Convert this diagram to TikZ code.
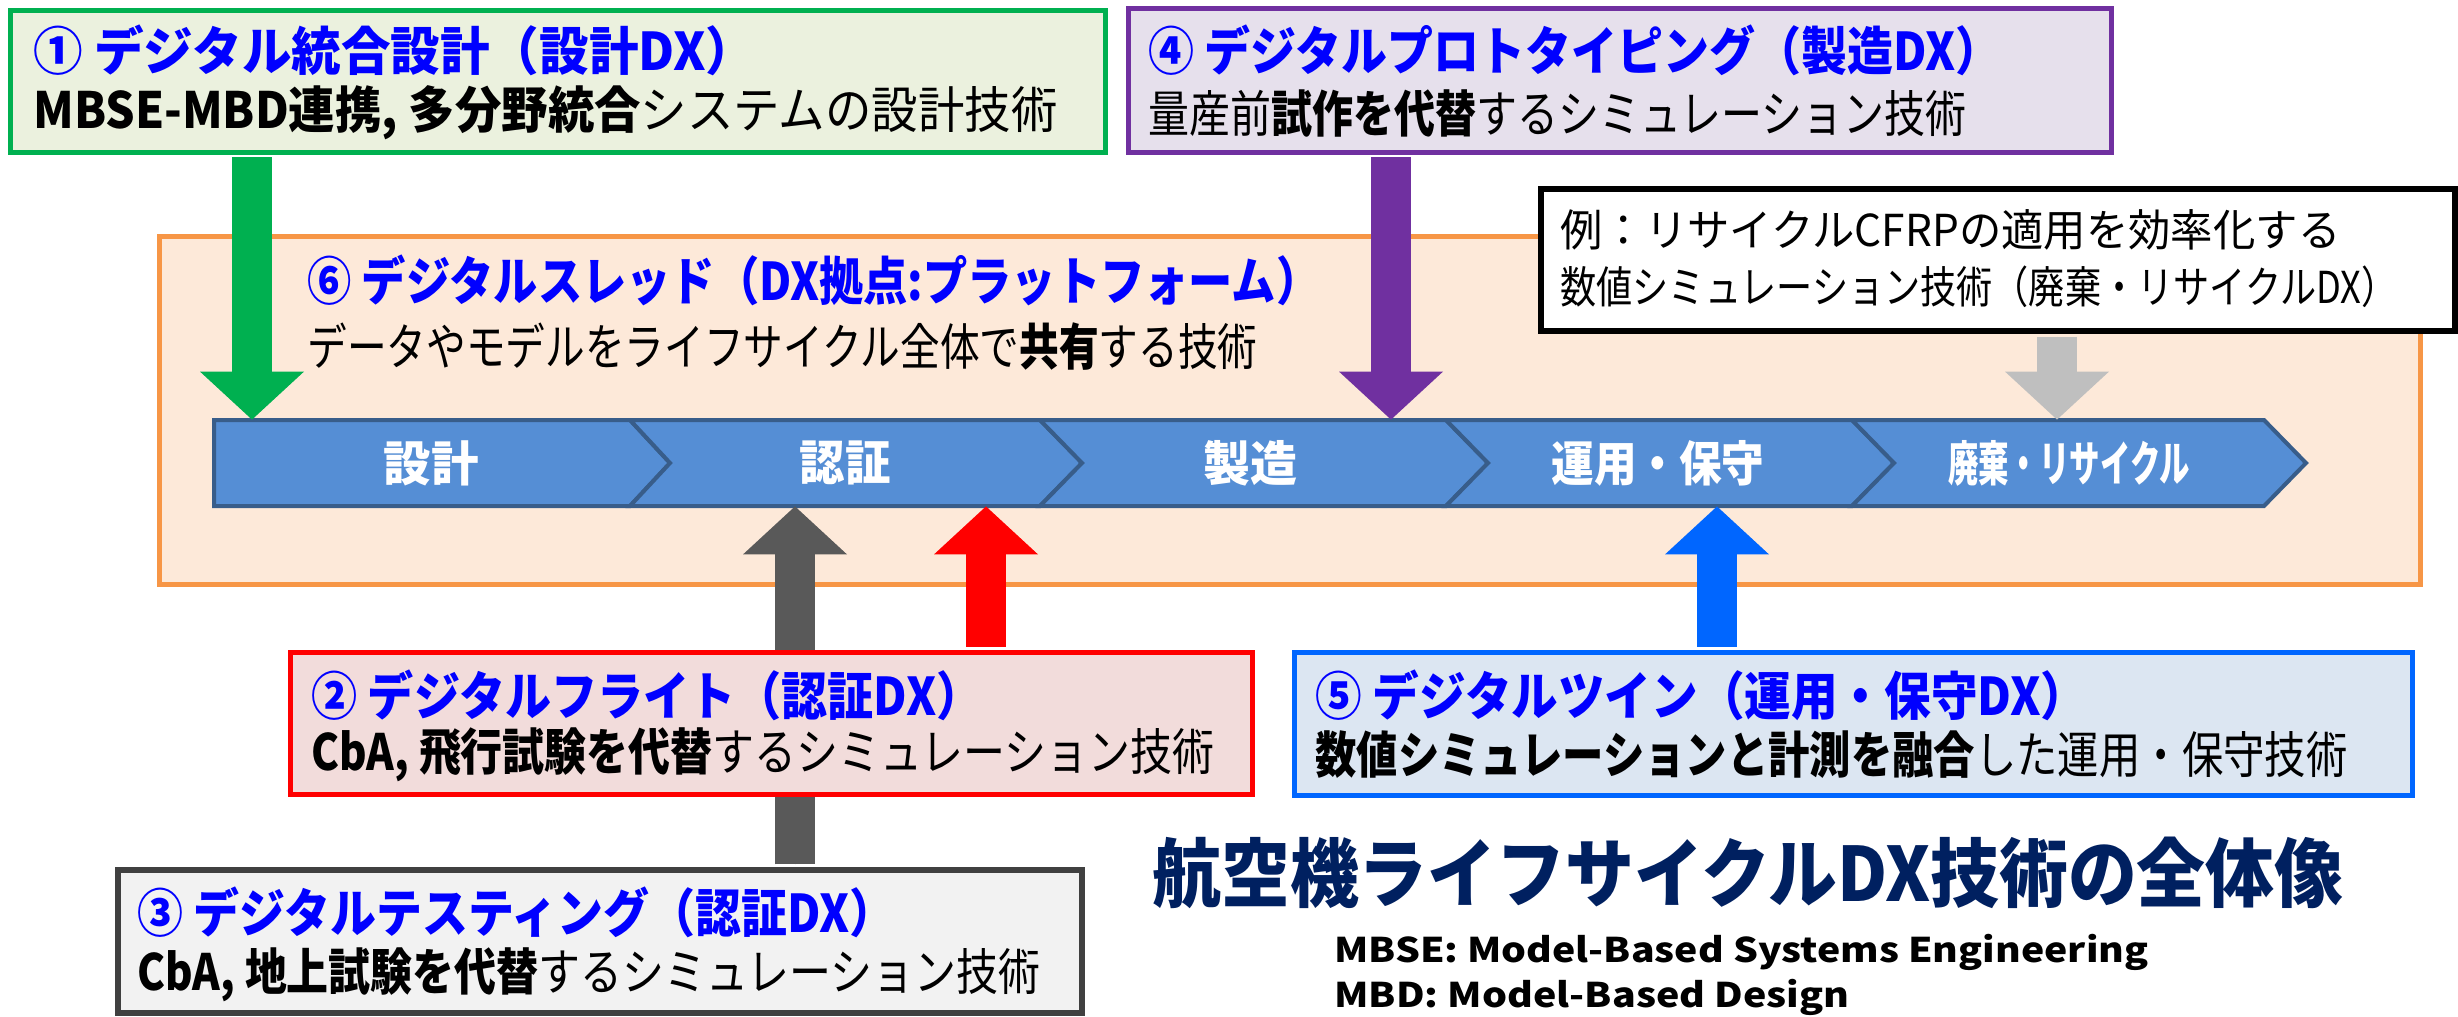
\documentclass[tikz,border=0pt]{standalone}
\usepackage{fontspec}
\usepackage{graphicx}
\setmainfont{Noto Sans CJK JP}
\usetikzlibrary{arrows.meta,fit}
\definecolor{cGreen}{HTML}{00B050}
\definecolor{cGreenF}{HTML}{EBF1DE}
\definecolor{cPurple}{HTML}{7030A0}
\definecolor{cPurpleF}{HTML}{E6E0EC}
\definecolor{cOrange}{HTML}{F79646}
\definecolor{cOrangeF}{HTML}{FDE9D9}
\definecolor{cRed}{HTML}{FF0000}
\definecolor{cRedF}{HTML}{F2DCDB}
\definecolor{cBlue}{HTML}{0066FF}
\definecolor{cBlueF}{HTML}{DCE6F2}
\definecolor{cGrayB}{HTML}{404040}
\definecolor{cGrayF}{HTML}{F2F2F2}
\definecolor{cDark}{HTML}{595959}
\definecolor{cLight}{HTML}{BFBFBF}
\definecolor{cChev}{HTML}{558ED5}
\definecolor{cChevB}{HTML}{385D8A}
\definecolor{cTitle}{HTML}{0000FF}
\definecolor{cNavy}{HTML}{002060}
\newcommand\fitto[2]{\resizebox{#1}{\height}{#2}}
\begin{document}
\begin{tikzpicture}[x=0.5pt,y=-0.5pt,
  box/.style={inner sep=0pt, line width=2.5pt},
  gbox/.style={box, draw=cGreen, fill=cGreenF},
  pbox/.style={box, draw=cPurple, fill=cPurpleF},
  obox/.style={box, draw=cOrange, fill=cOrangeF},
  rbox/.style={box, draw=cRed, fill=cRedF},
  bbox/.style={box, draw=cBlue, fill=cBlueF},
  kbox/.style={box, draw=cGrayB, fill=cGrayF, line width=3pt},
  xbox/.style={box, draw=black, fill=white, line width=3pt},
  ttl/.style={anchor=west, inner sep=0pt, text=cTitle, font=\fontsize{26pt}{30pt}\selectfont\bfseries},
  sub/.style={anchor=west, inner sep=0pt, font=\fontsize{25pt}{29pt}\selectfont},
  exl/.style={anchor=west, inner sep=0pt, font=\fontsize{22pt}{26pt}\selectfont},
  seglab/.style={inner sep=0pt, minimum height=43pt, text=white, font=\fontsize{24pt}{28pt}\selectfont\bfseries},
  chev/.style={fill=cChev, draw=cChevB, line width=2pt, line join=miter},
  barrow/.style={line width=20pt, shorten <=1.3pt, -{Triangle[length=24pt,width=52pt,line width=0pt]}}
]
\useasboundingbox (0,0) rectangle (2458,1017);
\fill[white] (0,0) rectangle (2458,1017);

% digital thread box
\node[obox, fit={(159,236) (2420,584)}] (b6) {};

% chevron bar
\filldraw[chev] (214,420) -- (630,420) -- (670,463) -- (630,506) -- (214,506) -- cycle;
\filldraw[chev] (630,420) -- (1040,420) -- (1082,463) -- (1040,506) -- (630,506) -- (670,463) -- cycle;
\filldraw[chev] (1040,420) -- (1446,420) -- (1488,463) -- (1446,506) -- (1040,506) -- (1082,463) -- cycle;
\filldraw[chev] (1446,420) -- (1852,420) -- (1894,463) -- (1852,506) -- (1446,506) -- (1488,463) -- cycle;
\filldraw[chev] (1852,420) -- (2264,420) -- (2306,463) -- (2264,506) -- (1852,506) -- (1894,463) -- cycle;
\node[seglab] (s1) at (431,463) {\fitto{47.5pt}{設計}};
\node[seglab] (s2) at (845,463) {\fitto{45.5pt}{認証}};
\node[seglab] (s3) at (1250,463) {\fitto{47pt}{製造}};
\node[seglab] (s4) at (1658,463) {\fitto{106.5pt}{運用・保守}};
\node[seglab] (s5) at (2069,463) {\fitto{121pt}{廃棄・リサイクル}};

% boxes
\node[gbox, fit={(10,10) (1105,152)}] (b1) {};
\node[pbox, fit={(1128,8) (2111,152)}] (b4) {};
\node[kbox, fit={(118,870) (1082,1013)}] (b3) {};
\node[xbox, fit={(1541,189) (2455,331)}] (bx) {};

% arrows
\coordinate (xg) at (252,0);
\coordinate (xp) at (1391,0);
\coordinate (xl) at (2057,0);
\coordinate (xd) at (795,0);
\coordinate (xr) at (986,0);
\coordinate (xb) at (1717,0);
\draw[barrow, draw=cGreen, fill=cGreen] (b1.south -| xg) -- (s1.north -| xg);
\draw[barrow, draw=cPurple, fill=cPurple] (b4.south -| xp) -- (s3.north -| xp);
\draw[barrow, draw=cLight, fill=cLight] (bx.south -| xl) -- (s5.north -| xl);
\draw[barrow, draw=cDark, fill=cDark] (b3.north -| xd) -- (s2.south -| xd);

\node[rbox, fit={(290,652) (1252,794)}] (b2) {};
\node[bbox, fit={(1294,652) (2412,795)}] (b5) {};
\draw[barrow, draw=cRed, fill=cRed] (b2.north -| xr) -- (s2.south -| xr);
\draw[barrow, draw=cBlue, fill=cBlue] (b5.north -| xb) -- (s4.south -| xb);

% texts
\node[ttl] (t1) at (33,50) {\fitto{361pt}{① デジタル統合設計（設計DX）}};
\node[sub] (u1) at (33,113) {\fitto{512pt}{\textbf{MBSE-MBD連携, 多分野統合}システムの設計技術}};
\node[ttl] (t4) at (1148,50) {\fitto{426.5pt}{④ デジタルプロトタイピング（製造DX）}};
\node[sub] (u4) at (1148,113) {\fitto{409pt}{量産前\textbf{試作を代替}するシミュレーション技術}};
\node[ttl] (t6) at (307,280) {\fitto{506.5pt}{⑥ デジタルスレッド（DX拠点:プラットフォーム）}};
\node[sub] (u6) at (307,347) {\fitto{475pt}{データやモデルをライフサイクル全体で\textbf{共有}する技術}};
\node[exl] (x1) at (1560,230) {\fitto{390pt}{例：リサイクルCFRPの適用を効率化する}};
\node[exl] (x2) at (1560,287) {\fitto{418.5pt}{数値シミュレーション技術（廃棄・リサイクルDX）}};
\node[ttl] (t2) at (311,695) {\fitto{335.5pt}{② デジタルフライト（認証DX）}};
\node[sub] (u2) at (311,755) {\fitto{451.5pt}{\textbf{CbA, 飛行試験を代替}するシミュレーション技術}};
\node[ttl] (t5) at (1315,695) {\fitto{386pt}{⑤ デジタルツイン（運用・保守DX）}};
\node[sub] (u5) at (1315,755) {\fitto{516pt}{\textbf{数値シミュレーションと計測を融合}した運用・保守技術}};
\node[ttl] (t3) at (137,912) {\fitto{379pt}{③ デジタルテスティング（認証DX）}};
\node[sub] (u3) at (137,975) {\fitto{451.5pt}{\textbf{CbA, 地上試験を代替}するシミュレーション技術}};
\node[anchor=west, inner sep=0pt, text=cNavy, font=\fontsize{37.5pt}{42pt}\selectfont\bfseries] (mt) at (1152,873) {\fitto{595.5pt}{航空機ライフサイクルDX技術の全体像}};
\node[anchor=west, inner sep=0pt, font=\fontsize{17pt}{20pt}\selectfont\bfseries] (n1) at (1334,952) {\fitto{407pt}{MBSE: Model-Based Systems Engineering}};
\node[anchor=west, inner sep=0pt, font=\fontsize{17pt}{20pt}\selectfont\bfseries] (n2) at (1334,997) {\fitto{257.5pt}{MBD: Model-Based Design}};
\end{tikzpicture}
\end{document}
